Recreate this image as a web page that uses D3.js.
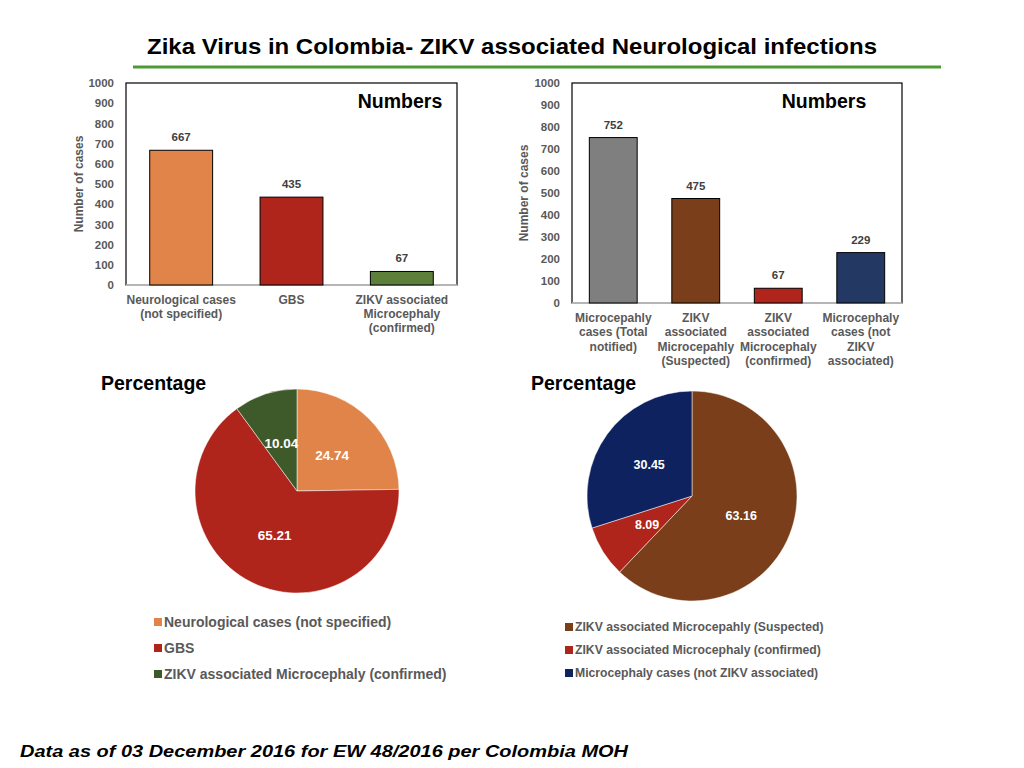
<!DOCTYPE html>
<html>
<head>
	<title>Zika Colombia</title>
	<script type="text/javascript" src="https://cdnjs.cloudflare.com/ajax/libs/d3/7.8.5/d3.min.js"></script>
	<style>
		body { margin: 0; background: #fff; }
		text { font-family: "Liberation Sans", Arial, sans-serif; }
	</style>
</head>
<body>
	<svg id="slide" width="1024" height="768"></svg>
	<script type="text/javascript">
		// left bar chart
		var neuroCats = [["Neurological cases", "(not specified)"], ["GBS"], ["ZIKV associated", "Microcephaly", "(confirmed)"]];
		var neuroValues = [667, 435, 67];
		var neuroColors = ["#E0844A", "#B0251B", "#5C7F3A"];

		// right bar chart
		var microCats = [["Microcepahly", "cases (Total", "notified)"], ["ZIKV", "associated", "Microcepahly", "(Suspected)"], ["ZIKV", "associated", "Microcephaly", "(confirmed)"], ["Microcephaly", "cases (not", "ZIKV", "associated)"]];
		var microValues = [752, 475, 67, 229];
		var microColors = ["#7F7F7F", "#7A3F1A", "#B0251B", "#233862"];

		var yTicks = [0, 100, 200, 300, 400, 500, 600, 700, 800, 900, 1000];

		// pies
		var neuroPieLabels = ["Neurological cases (not specified)", "GBS", "ZIKV associated Microcephaly (confirmed)"];
		var neuroPct = [24.74, 65.21, 10.04];
		var neuroPieColors = ["#E0844A", "#B0251B", "#3F5A2A"];

		var microPieLabels = ["ZIKV associated Microcepahly (Suspected)", "ZIKV associated Microcephaly (confirmed)", "Microcephaly cases (not ZIKV associated)"];
		var microPct = [63.16, 8.09, 30.45];
		var microPieColors = ["#7A3F1A", "#B0251B", "#0E2260"];

		var svg = d3.select("#slide");
		var gray = "#595959";

		// title
		svg.append("text")
			.attr("x", 512).attr("y", 54)
			.attr("text-anchor", "middle")
			.attr("font-size", 22).attr("font-weight", "bold")
			.attr("textLength", 730).attr("lengthAdjust", "spacingAndGlyphs")
			.text("Zika Virus in Colombia- ZIKV associated Neurological infections");
		svg.append("line")
			.attr("x1", 133).attr("x2", 941)
			.attr("y1", 67).attr("y2", 67)
			.attr("stroke", "#4E9A33").attr("stroke-width", 3);

		function barChart(cfg) {
			var g = svg.append("g");
			var x = d3.scaleBand()
				.domain(d3.range(cfg.values.length))
				.range([cfg.left, cfg.right])
				.paddingInner(cfg.pad).paddingOuter(cfg.pad / 2);
			var y = d3.scaleLinear().domain([0, 1000]).range([cfg.bottom, cfg.top]);

			g.append("rect")
				.attr("x", cfg.left).attr("y", cfg.top)
				.attr("width", cfg.right - cfg.left).attr("height", cfg.bottom - cfg.top)
				.attr("fill", "none").attr("stroke", "#000").attr("stroke-width", 1.2);
			g.append("line")
				.attr("x1", cfg.left).attr("x2", cfg.right)
				.attr("y1", cfg.bottom).attr("y2", cfg.bottom)
				.attr("stroke", "#d0d0d0").attr("stroke-width", 1.5);

			var ax = g.append("g")
				.attr("transform", "translate(" + (cfg.left - 6) + ",0)")
				.call(d3.axisLeft(y).tickValues(yTicks).tickFormat(d3.format("d")).tickSize(0).tickPadding(6));
			ax.select(".domain").remove();
			ax.selectAll("text")
				.attr("font-family", "Liberation Sans, Arial, sans-serif")
				.attr("font-size", 11.5).attr("font-weight", "bold").attr("fill", gray);

			g.append("text")
				.attr("transform", "translate(" + cfg.yLabelX + "," + ((cfg.top + cfg.bottom) / 2) + ") rotate(-90)")
				.attr("text-anchor", "middle")
				.attr("font-size", 12).attr("font-weight", "bold").attr("fill", gray)
				.text("Number of cases");

			g.selectAll(".bar")
				.data(cfg.values)
				.enter().append("rect")
				.attr("x", function (d, i) { return x(i); })
				.attr("y", function (d) { return y(d); })
				.attr("width", x.bandwidth())
				.attr("height", function (d) { return cfg.bottom - y(d); })
				.attr("fill", function (d, i) { return cfg.colors[i]; })
				.attr("stroke", "#000").attr("stroke-width", 1);

			g.selectAll(".val")
				.data(cfg.values)
				.enter().append("text")
				.attr("x", function (d, i) { return x(i) + x.bandwidth() / 2; })
				.attr("y", function (d) { return y(d) - 9; })
				.attr("text-anchor", "middle")
				.attr("font-size", 11.5).attr("font-weight", "bold").attr("fill", "#404040")
				.text(function (d) { return d; });

			cfg.cats.forEach(function (lines, i) {
				var t = g.append("text")
					.attr("text-anchor", "middle")
					.attr("font-size", 12).attr("font-weight", "bold").attr("fill", gray);
				lines.forEach(function (s, k) {
					t.append("tspan")
						.attr("x", x(i) + x.bandwidth() / 2)
						.attr("y", cfg.bottom + 19 + k * cfg.lineH)
						.text(s);
				});
			});

			g.append("text")
				.attr("x", cfg.numX).attr("y", 108)
				.attr("text-anchor", "middle")
				.attr("font-size", 19.5).attr("font-weight", "bold")
				.text("Numbers");
		}

		barChart({values: neuroValues, cats: neuroCats, colors: neuroColors,
			left: 126, right: 457, top: 83, bottom: 285, pad: 0.43, lineH: 14, yLabelX: 83, numX: 400});
		barChart({values: microValues, cats: microCats, colors: microColors,
			left: 572, right: 902, top: 83, bottom: 303, pad: 0.42, lineH: 14.4, yLabelX: 528, numX: 824});

		function pieChart(cfg) {
			var g = svg.append("g").attr("transform", "translate(" + cfg.cx + "," + cfg.cy + ")");
			var pie = d3.pie().sort(null);
			var arc = d3.arc().innerRadius(0).outerRadius(cfg.r);
			var lab = d3.arc().innerRadius(cfg.lr).outerRadius(cfg.lr);
			var arcs = pie(cfg.values);

			g.selectAll("path")
				.data(arcs)
				.enter().append("path")
				.attr("d", arc)
				.attr("fill", function (d, i) { return cfg.colors[i]; })
				.attr("stroke", "#fff").attr("stroke-width", 0.5);

			g.selectAll(".pl")
				.data(arcs)
				.enter().append("text")
				.attr("transform", function (d) { return "translate(" + lab.centroid(d) + ")"; })
				.attr("dy", "0.35em")
				.attr("text-anchor", "middle")
				.attr("font-size", cfg.valFont).attr("font-weight", "bold").attr("fill", "#fff")
				.text(function (d) { return d.data.toFixed(2); });

			svg.append("text")
				.attr("x", cfg.titleX).attr("y", 390)
				.attr("font-size", 19.5).attr("font-weight", "bold")
				.text("Percentage");

			var lg = svg.append("g");
			cfg.labels.forEach(function (s, i) {
				var yy = cfg.legY[i];
				lg.append("rect")
					.attr("x", cfg.legX).attr("y", yy - 4)
					.attr("width", 8).attr("height", 8)
					.attr("fill", cfg.colors[i]);
				lg.append("text")
					.attr("x", cfg.legX + 10).attr("y", yy)
					.attr("dy", "0.35em")
					.attr("font-size", cfg.legFont).attr("font-weight", "bold").attr("fill", gray)
					.text(s);
			});
		}

		pieChart({values: neuroPct, colors: neuroPieColors, labels: neuroPieLabels,
			cx: 297, cy: 491, r: 102, lr: 50, titleX: 101, legX: 154, legY: [622, 648, 674], legFont: 14, valFont: 13.5});
		pieChart({values: microPct, colors: microPieColors, labels: microPieLabels,
			cx: 692, cy: 496, r: 105, lr: 53, titleX: 531, legX: 565, legY: [627, 650, 673], legFont: 12.2, valFont: 12.5});

		// footer
		svg.append("text")
			.attr("x", 20).attr("y", 757)
			.attr("font-size", 17).attr("font-weight", "bold").attr("font-style", "italic")
			.attr("textLength", 608).attr("lengthAdjust", "spacingAndGlyphs")
			.text("Data as of 03 December 2016 for EW 48/2016 per Colombia MOH");
	</script>
</body>
</html>
